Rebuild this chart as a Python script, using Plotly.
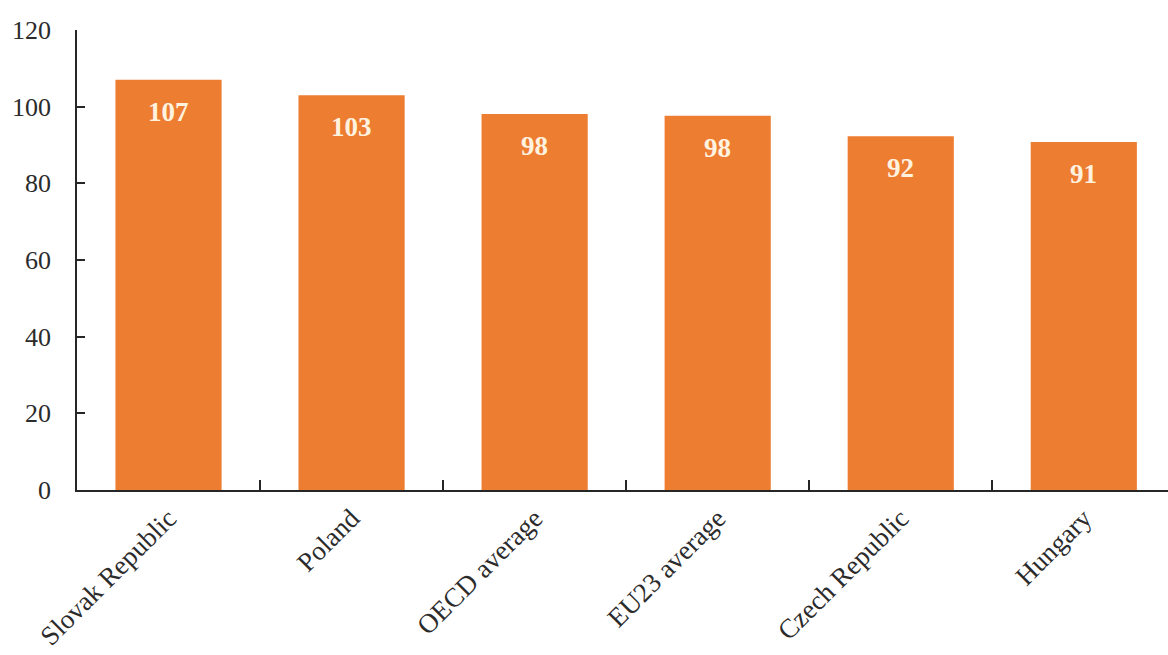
import plotly.graph_objects as go

# Index values by country / group
categories = ["Slovak Republic", "Poland", "OECD average", "EU23 average", "Czech Republic", "Hungary"]
values = [107, 103, 98.1, 97.6, 92.3, 90.8]
value_labels = ["107", "103", "98", "98", "92", "91"]
y_ticks = [0, 20, 40, 60, 80, 100, 120]

BAR_COLOR = "#ED7D31"
AXIS_COLOR = "#262626"
FONT = "Liberation Serif"

fig = go.Figure(
    go.Bar(
        x=categories,
        y=values,
        marker=dict(color=BAR_COLOR, line=dict(width=0)),
        width=0.58,
        hoverinfo="skip",
    )
)

# Value labels inside the top of each bar
for cat, val, lab in zip(categories, values, value_labels):
    fig.add_annotation(
        x=cat, y=val, text=f"<b>{lab}</b>", showarrow=False,
        yanchor="middle", yshift=-32,
        font=dict(family=FONT, size=27, color="#FFF3E0"),
    )

fig.update_layout(
    width=1168, height=655,
    margin=dict(l=77, r=0, t=30, b=165),
    paper_bgcolor="white", plot_bgcolor="white",
    showlegend=False,
    font=dict(family=FONT, size=25, color="#2b2b2b"),
)

fig.update_xaxes(
    type="category",
    range=[-0.5, 5.46],
    showline=True, linecolor=AXIS_COLOR, linewidth=1.5,
    ticks="inside", tickson="boundaries", ticklen=10, tickcolor=AXIS_COLOR, tickwidth=1.5,
    tickangle=-45,
    tickfont=dict(family=FONT, size=27, color="#2b2b2b"),
    showgrid=False, zeroline=False,
)

fig.update_yaxes(
    range=[0, 120],
    tickvals=y_ticks,
    showline=True, linecolor=AXIS_COLOR, linewidth=1.5,
    ticks="inside", ticklen=8, tickcolor=AXIS_COLOR, tickwidth=1.5,
    ticklabelstandoff=19,
    tickfont=dict(family=FONT, size=26, color="#2b2b2b"),
    showgrid=False, zeroline=False,
)

fig.write_html("out.html")
